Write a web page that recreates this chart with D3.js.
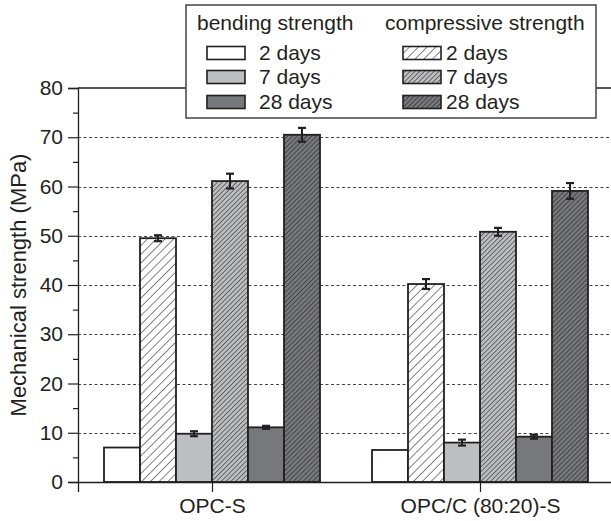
<!DOCTYPE html>
<html>
<head>
<meta charset="utf-8">
<script src="https://cdn.jsdelivr.net/npm/d3@7/dist/d3.min.js"></script>
<style>
body { margin: 0; background: #fff; }
text { font-family: 'Liberation Sans', Arial, sans-serif; fill: #231f20; }
</style>
</head>
<body>
<div id="plot"></div>
<script>
var groups = ["OPC-S", "OPC/C (80:20)-S"];
var ages = ["2 days", "7 days", "28 days"];
var bending = [[7.0, 9.8, 11.1], [6.5, 8.0, 9.2]];
var bendingErr = [[0, 0.5, 0.3], [0, 0.6, 0.4]];
var compressive = [[49.5, 61.1, 70.5], [40.2, 50.8, 59.1]];
var compressiveErr = [[0.6, 1.5, 1.4], [1.0, 0.8, 1.6]];
var yTicks = [0, 10, 20, 30, 40, 50, 60, 70, 80];
var yMinor = [5, 15, 25, 35, 45, 55, 65, 75];
var gridTicks = [10, 20, 30, 40, 50, 60, 70];

var width = 611, height = 521;
var plotLeft = 78, plotTop = 88, plotBottom = 482, plotRight = 614;
var ink = '#231f20';
var ageFill = ['#ffffff', '#bcbec0', '#77787b'];
var hatchGap = [6.2, 3.4, 3.4];

var svg = d3.select("#plot").append("svg")
  .attr("width", width)
  .attr("height", height)

var y = d3.scaleLinear().domain([0, 80]).range([plotBottom, plotTop]);
var x = d3.scalePoint().domain(groups).range([plotLeft, plotRight]).padding(0.5);
var inner = d3.scaleBand().domain(d3.range(6)).range([-108, 108]);

// hatch patterns for compressive bars
var defs = svg.append('defs');
ages.forEach(function(a, i){
  var p = defs.append('pattern')
    .attr('id', 'hatch' + i)
    .attr('patternUnits', 'userSpaceOnUse')
    .attr('width', hatchGap[i])
    .attr('height', hatchGap[i])
    .attr('patternTransform', 'rotate(45)');
  p.append('rect')
    .attr('width', hatchGap[i])
    .attr('height', hatchGap[i])
    .attr('fill', ageFill[i]);
  p.append('line')
    .attr('x1', 0).attr('x2', 0)
    .attr('y1', 0).attr('y2', hatchGap[i])
    .attr('stroke', ink)
    .attr('stroke-width', 1.1);
});

// build the bar list: bend 2, comp 2, bend 7, comp 7, bend 28, comp 28
var bars = [];
groups.forEach(function(g, gi){
  ages.forEach(function(a, ai){
    bars.push({group: g, slot: ai * 2, age: ai, kind: 'bend', value: bending[gi][ai], err: bendingErr[gi][ai]});
    bars.push({group: g, slot: ai * 2 + 1, age: ai, kind: 'comp', value: compressive[gi][ai], err: compressiveErr[gi][ai]});
  });
});

// dotted grid
svg.selectAll('.grid')
  .data(gridTicks)
  .enter()
  .append('line')
  .attr('x1', plotLeft)
  .attr('x2', plotRight)
  .attr('y1', function(d){ return Math.round(y(d)) + 0.5 })
  .attr('y2', function(d){ return Math.round(y(d)) + 0.5 })
  .attr('stroke', '#444')
  .attr('stroke-width', 1.2)
  .attr('stroke-dasharray', '3,2.5');

// frame top
svg.append('line')
  .attr('x1', plotLeft).attr('x2', plotRight)
  .attr('y1', y(80)).attr('y2', y(80))
  .attr('stroke', ink).attr('stroke-width', 1.3);

// bars
svg.selectAll('.bar')
  .data(bars)
  .enter()
  .append('rect')
  .attr('x', function(d){ return x(d.group) + inner(d.slot) })
  .attr('y', function(d){ return y(d.value) })
  .attr('width', inner.bandwidth())
  .attr('height', function(d){ return y(0) - y(d.value) })
  .attr('fill', function(d){ return d.kind == 'bend' ? ageFill[d.age] : 'url(#hatch' + d.age + ')' })
  .attr('stroke', ink)
  .attr('stroke-width', 1.8);

// error bars
var errBars = bars.filter(function(d){ return d.err > 0 });
var eg = svg.selectAll('.err')
  .data(errBars)
  .enter()
  .append('g')
  .attr('transform', function(d){ return 'translate(' + (x(d.group) + inner(d.slot) + inner.bandwidth() / 2) + ',0)' });
eg.append('line')
  .attr('y1', function(d){ return y(d.value + d.err) })
  .attr('y2', function(d){ return y(d.value - d.err) })
  .attr('stroke', ink).attr('stroke-width', 2);
eg.selectAll('cap')
  .data(function(d){ return [d.value + d.err, d.value - d.err] })
  .enter()
  .append('line')
  .attr('x1', -4).attr('x2', 4)
  .attr('y1', function(v){ return y(v) })
  .attr('y2', function(v){ return y(v) })
  .attr('stroke', ink).attr('stroke-width', 2.2);

// axes
var yAxis = svg.append('g')
  .attr('transform', 'translate(' + plotLeft + ',0)')
  .call(d3.axisLeft(y).tickValues(yTicks).tickSize(10).tickPadding(5));
yAxis.select('.domain').attr('stroke', ink).attr('stroke-width', 1.3);
yAxis.selectAll('.tick line').attr('stroke', ink).attr('stroke-width', 1.2);
yAxis.selectAll('text').style('font-size', '21px').attr('fill', ink);
svg.append('g')
  .attr('transform', 'translate(' + plotLeft + ',0)')
  .call(d3.axisLeft(y).tickValues(yMinor).tickSize(5).tickFormat(''))
  .call(function(g){ g.select('.domain').remove() })
  .selectAll('line').attr('stroke', ink).attr('stroke-width', 1.2);

var xAxis = svg.append('g')
  .attr('transform', 'translate(0,' + plotBottom + ')')
  .call(d3.axisBottom(x).tickSize(10).tickPadding(6));
xAxis.select('.domain').attr('stroke', ink).attr('stroke-width', 1.3);
xAxis.selectAll('.tick line').attr('stroke', ink).attr('stroke-width', 1.2);
xAxis.selectAll('text').style('font-size', '21px').attr('fill', ink);

svg.append('text')
  .attr('transform', 'translate(18,' + (plotTop + plotBottom) / 2 + ') rotate(-90)')
  .attr('text-anchor', 'middle')
  .attr('dy', '0.35em')
  .style('font-size', '22px')
  .text('Mechanical strength (MPa)');

// legend
var legend = svg.append('g');
legend.append('rect')
  .attr('x', 186).attr('y', 5)
  .attr('width', 410).attr('height', 113)
  .attr('fill', '#fff')
  .attr('stroke', '#444')
  .attr('stroke-width', 1.5);
var cols = [
  {title: 'bending strength', tx: 197, sx: 207, lx: 259, kind: 'bend'},
  {title: 'compressive strength', tx: 385, sx: 403, lx: 446, kind: 'comp'}
];
var rowY = [53, 77, 102];
cols.forEach(function(c){
  legend.append('text')
    .attr('x', c.tx).attr('y', 23)
    .attr('dy', '0.35em')
    .style('font-size', '21px')
    .text(c.title);
  legend.selectAll('.sw' + c.kind)
    .data(ages)
    .enter()
    .append('rect')
    .attr('x', c.sx)
    .attr('y', function(d, i){ return rowY[i] - 6.5 })
    .attr('width', 38).attr('height', 13)
    .attr('fill', function(d, i){ return c.kind == 'bend' ? ageFill[i] : 'url(#hatch' + i + ')' })
    .attr('stroke', ink).attr('stroke-width', 1.6);
  legend.selectAll('.lb' + c.kind)
    .data(ages)
    .enter()
    .append('text')
    .attr('x', c.lx)
    .attr('y', function(d, i){ return rowY[i] })
    .attr('dy', '0.35em')
    .style('font-size', '21px')
    .text(function(d){ return d });
});
</script>
</body>
</html>
